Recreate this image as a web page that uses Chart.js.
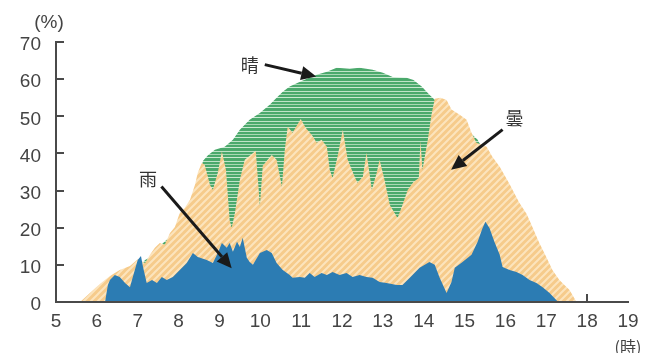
<!DOCTYPE html>
<html>
<head>
<meta charset="utf-8">
<script src="https://cdn.jsdelivr.net/npm/chart.js@4.4.1/dist/chart.umd.min.js"></script>
<style>
  html, body { margin: 0; padding: 0; background: #fff; }
</style>
</head>
<body>
<canvas id="weatherChart" width="657" height="353"></canvas>
<script>
// 晴 (sunny)
const sunnyHours = [6.0,6.5,7.0,7.18,7.30,7.54,7.66,7.79,8.03,8.28,8.40,8.47,8.60,8.72,8.89,9.13,9.33,9.50,9.74,9.99,10.23,10.40,10.55,10.72,10.92,11.14,11.38,11.63,11.87,12.19,12.43,12.75,13.00,13.24,13.58,13.75,13.95,14.14,14.32,14.50,14.70,15.00,15.32,15.50,15.80,16.10,16.50,16.80,17.00,17.20,17.40,17.60];
const sunnyValues = [0,4,9,11.3,12.0,15.0,16.3,17.5,22,26,30,33,38,39.5,41,41.8,43.7,46.4,49.1,50.9,53.1,55.0,56.6,58.0,59.0,60.1,61.2,62.0,63.1,62.8,63.1,62.5,61.7,60.6,60.4,59.8,58.0,55.8,53.9,53,50,47,43.7,40,35,30,22,15,11,7,3,0];

// 曇 (cloudy)
const cloudyHours = [5.59,5.83,6.08,6.32,6.56,6.81,7.00,7.18,7.30,7.42,7.54,7.66,7.79,7.91,8.03,8.15,8.28,8.40,8.47,8.57,8.64,8.77,8.84,8.96,9.06,9.16,9.25,9.30,9.38,9.50,9.62,9.74,9.89,9.99,10.06,10.18,10.28,10.40,10.53,10.60,10.67,10.79,10.99,11.11,11.28,11.38,11.50,11.63,11.70,11.77,11.89,12.02,12.14,12.31,12.38,12.51,12.60,12.73,12.85,12.92,13.04,13.17,13.36,13.48,13.61,13.75,13.88,13.92,13.97,14.10,14.19,14.27,14.41,14.56,14.68,14.88,15.05,15.17,15.29,15.54,15.68,15.86,16.10,16.34,16.52,16.66,16.83,17.00,17.15,17.32,17.57,17.74];
const cloudyValues = [0,2.4,4.9,7.0,8.6,9.7,11.5,10.5,12.7,14.6,15.9,15.4,18.6,20.2,24.0,25.3,27.5,31.5,34.8,37.5,36.9,31.5,30.2,34.8,40.5,35.6,22.1,19.9,24.0,32.9,38.3,39.4,40.7,25.9,36.7,38.3,39.6,38.3,31.0,41.0,47.2,45.6,49.3,46.9,44.7,42.9,43.7,41.8,35.6,33.4,39.1,46.4,38.3,33.7,32.1,33.7,40.2,30.2,34.8,38.3,32.9,26.1,22.6,26.1,30.2,32.3,33.4,43.4,35.6,43.7,50.4,54.7,55.0,54.4,51.8,50.4,49.1,45.6,42.9,41.8,39.1,36.4,31.8,26.7,23.7,20.2,15.9,12.1,8.6,5.9,3.2,0];

// 雨 (rain)
const rainHours = [6.20,6.27,6.32,6.44,6.56,6.69,6.81,6.88,7.00,7.08,7.13,7.22,7.35,7.47,7.59,7.71,7.86,8.03,8.20,8.35,8.47,8.69,8.84,8.96,9.06,9.18,9.25,9.33,9.43,9.50,9.57,9.67,9.74,9.82,9.99,10.16,10.28,10.40,10.55,10.72,10.79,10.97,11.09,11.21,11.33,11.50,11.63,11.77,11.94,12.11,12.26,12.43,12.60,12.75,12.92,13.09,13.34,13.48,13.66,13.90,14.14,14.27,14.39,14.56,14.68,14.76,14.95,15.17,15.32,15.44,15.51,15.61,15.73,15.86,15.93,16.10,16.27,16.42,16.59,16.76,16.91,17.08,17.25,17.30];
const rainValues = [0,4.6,5.9,7.3,6.7,5.1,4.0,6.7,11.3,12.4,9.4,5.1,5.9,5.1,6.7,5.9,6.7,8.6,10.5,13.2,12.1,11.3,10.5,13.2,15.9,14.6,15.9,13.5,16.2,14.8,17.3,11.9,10.8,10.0,13.2,14.0,13.2,10.5,8.6,7.3,6.5,6.7,6.5,7.8,6.7,7.8,7.3,8.1,7.3,7.8,6.7,7.3,6.7,6.5,5.4,5.1,4.6,4.6,6.5,9.2,10.8,10.0,6.5,2.4,5.4,9.2,10.8,12.7,16.2,19.9,21.6,19.9,16.2,12.7,9.4,8.6,8.1,7.3,5.9,5.1,4.0,2.4,0.5,0];

// axis ticks
const hourTicks = [5,6,7,8,9,10,11,12,13,14,15,16,17,18,19];
const percentTicks = [0,10,20,30,40,50,60,70];

// arrow labels: text, text position, arrow start, arrow tip (hour, %)
const noteTexts = ["晴", "曇", "雨"];
const notePos = [[9.74, 63.9], [16.22, 49.6], [7.25, 33.2]];
const arrowFrom = [[10.11, 63.9], [15.93, 46.4], [7.58, 31.1]];
const arrowTo = [[11.37, 60.7], [14.67, 35.6], [9.30, 9.1]];

const AXIS = "#4a4a4a";
const TEXT = "#444";

function toPoints(xs, ys) {
  return xs.map((x, i) => ({ x: x, y: ys[i] }));
}

// orange hatch "/"
function hatchPattern() {
  const s = 7;
  const c = document.createElement("canvas");
  c.width = s; c.height = s;
  const g = c.getContext("2d");
  g.fillStyle = "#f6cb8b";
  g.fillRect(0, 0, s, s);
  g.strokeStyle = "#fce4bd";
  g.lineWidth = 2;
  g.beginPath();
  g.moveTo(-1, 1); g.lineTo(1, -1);
  g.moveTo(0, s); g.lineTo(s, 0);
  g.moveTo(s - 1, s + 1); g.lineTo(s + 1, s - 1);
  g.stroke();
  return g.createPattern(c, "repeat");
}

// green horizontal stripes
function stripePattern() {
  const c = document.createElement("canvas");
  c.width = 4; c.height = 10;
  const g = c.getContext("2d");
  g.fillStyle = "#4ba96c";
  g.fillRect(0, 0, 4, 10);
  g.fillStyle = "#bfe3c8";
  g.fillRect(0, 1, 4, 1);
  g.fillStyle = "#a8d8b4";
  g.fillRect(0, 4, 4, 1);
  g.fillStyle = "#cbe9d2";
  g.fillRect(0, 7, 4, 1);
  return g.createPattern(c, "repeat");
}

const ctx = document.getElementById("weatherChart").getContext("2d");

const axisExtras = {
  id: "axisExtras",
  beforeDatasetsDraw(chart) {
    // x ticks pointing up; the areas cover most of them
    const { ctx, scales: { x, y } } = chart;
    ctx.save();
    ctx.strokeStyle = AXIS;
    ctx.lineWidth = 2;
    ctx.beginPath();
    hourTicks.slice(1, -1).forEach(h => {
      const px = Math.round(x.getPixelForValue(h));
      ctx.moveTo(px, y.bottom);
      ctx.lineTo(px, y.bottom - 8);
    });
    ctx.stroke();
    ctx.restore();
  },
  afterDatasetsDraw(chart) {
    const { ctx, scales: { x, y }, chartArea } = chart;
    ctx.save();
    // y ticks pointing right
    ctx.strokeStyle = AXIS;
    ctx.lineWidth = 2;
    ctx.beginPath();
    percentTicks.slice(1).forEach(p => {
      const py = Math.round(y.getPixelForValue(p));
      ctx.moveTo(chartArea.left, py);
      ctx.lineTo(chartArea.left + 8, py);
    });
    ctx.stroke();

    // arrows
    ctx.fillStyle = "#1a1a1a";
    ctx.strokeStyle = "#1a1a1a";
    ctx.lineWidth = 3;
    arrowFrom.forEach((a, i) => {
      const x0 = x.getPixelForValue(a[0]), y0 = y.getPixelForValue(a[1]);
      const x1 = x.getPixelForValue(arrowTo[i][0]), y1 = y.getPixelForValue(arrowTo[i][1]);
      const ang = Math.atan2(y1 - y0, x1 - x0);
      const head = 15, half = 7;
      const bx = x1 - head * Math.cos(ang), by = y1 - head * Math.sin(ang);
      ctx.beginPath();
      ctx.moveTo(x0, y0);
      ctx.lineTo(bx, by);
      ctx.stroke();
      ctx.beginPath();
      ctx.moveTo(x1, y1);
      ctx.lineTo(bx + half * Math.sin(ang), by - half * Math.cos(ang));
      ctx.lineTo(bx - half * Math.sin(ang), by + half * Math.cos(ang));
      ctx.closePath();
      ctx.fill();
    });

    // labels
    ctx.fillStyle = "#333";
    ctx.font = "18px 'Noto Sans CJK JP'";
    ctx.textAlign = "center";
    ctx.textBaseline = "middle";
    noteTexts.forEach((t, i) => {
      ctx.fillText(t, x.getPixelForValue(notePos[i][0]), y.getPixelForValue(notePos[i][1]));
    });

    // units
    ctx.fillStyle = TEXT;
    ctx.font = "19px 'Liberation Sans'";
    ctx.fillText("(%)", chartArea.left - 7, chartArea.top - 19);
    ctx.font = "16px 'Noto Sans CJK JP'";
    ctx.fillText("(時)", chartArea.right, chartArea.bottom + 45);
    ctx.restore();
  }
};

new Chart(ctx, {
  type: "line",
  data: {
    datasets: [
      {
        label: "雨",
        data: toPoints(rainHours, rainValues),
        backgroundColor: "#2c7cb3",
        borderWidth: 0,
        fill: "origin"
      },
      {
        label: "曇",
        data: toPoints(cloudyHours, cloudyValues),
        backgroundColor: hatchPattern(),
        borderWidth: 0,
        fill: "origin"
      },
      {
        label: "晴",
        data: toPoints(sunnyHours, sunnyValues),
        backgroundColor: stripePattern(),
        borderWidth: 0,
        fill: "origin"
      }
    ]
  },
  options: {
    responsive: false,
    animation: false,
    devicePixelRatio: 1,
    layout: { padding: { left: 0, top: 42, right: 29, bottom: 0 } },
    elements: { point: { radius: 0 }, line: { tension: 0 } },
    plugins: {
      legend: { display: false },
      tooltip: { enabled: false }
    },
    scales: {
      x: {
        type: "linear",
        min: 5,
        max: 19,
        afterFit(scale) { scale.height = 51; },
        afterBuildTicks(scale) { scale.ticks = hourTicks.map(v => ({ value: v })); },
        grid: { display: false, drawTicks: false },
        border: { display: true, color: AXIS, width: 2, z: 1 },
        ticks: {
          color: TEXT,
          font: { family: "'Liberation Sans'", size: 19 },
          padding: 8,
          maxRotation: 0,
          autoSkip: false
        }
      },
      y: {
        min: 0,
        max: 70,
        afterFit(scale) { scale.width = 56; },
        afterBuildTicks(scale) { scale.ticks = percentTicks.map(v => ({ value: v })); },
        grid: { display: false, drawTicks: false },
        border: { display: true, color: AXIS, width: 2, z: 1 },
        ticks: {
          color: TEXT,
          font: { family: "'Liberation Sans'", size: 19 },
          padding: 15,
          labelOffset: 3
        }
      }
    }
  },
  plugins: [axisExtras]
});
</script>
</body>
</html>
